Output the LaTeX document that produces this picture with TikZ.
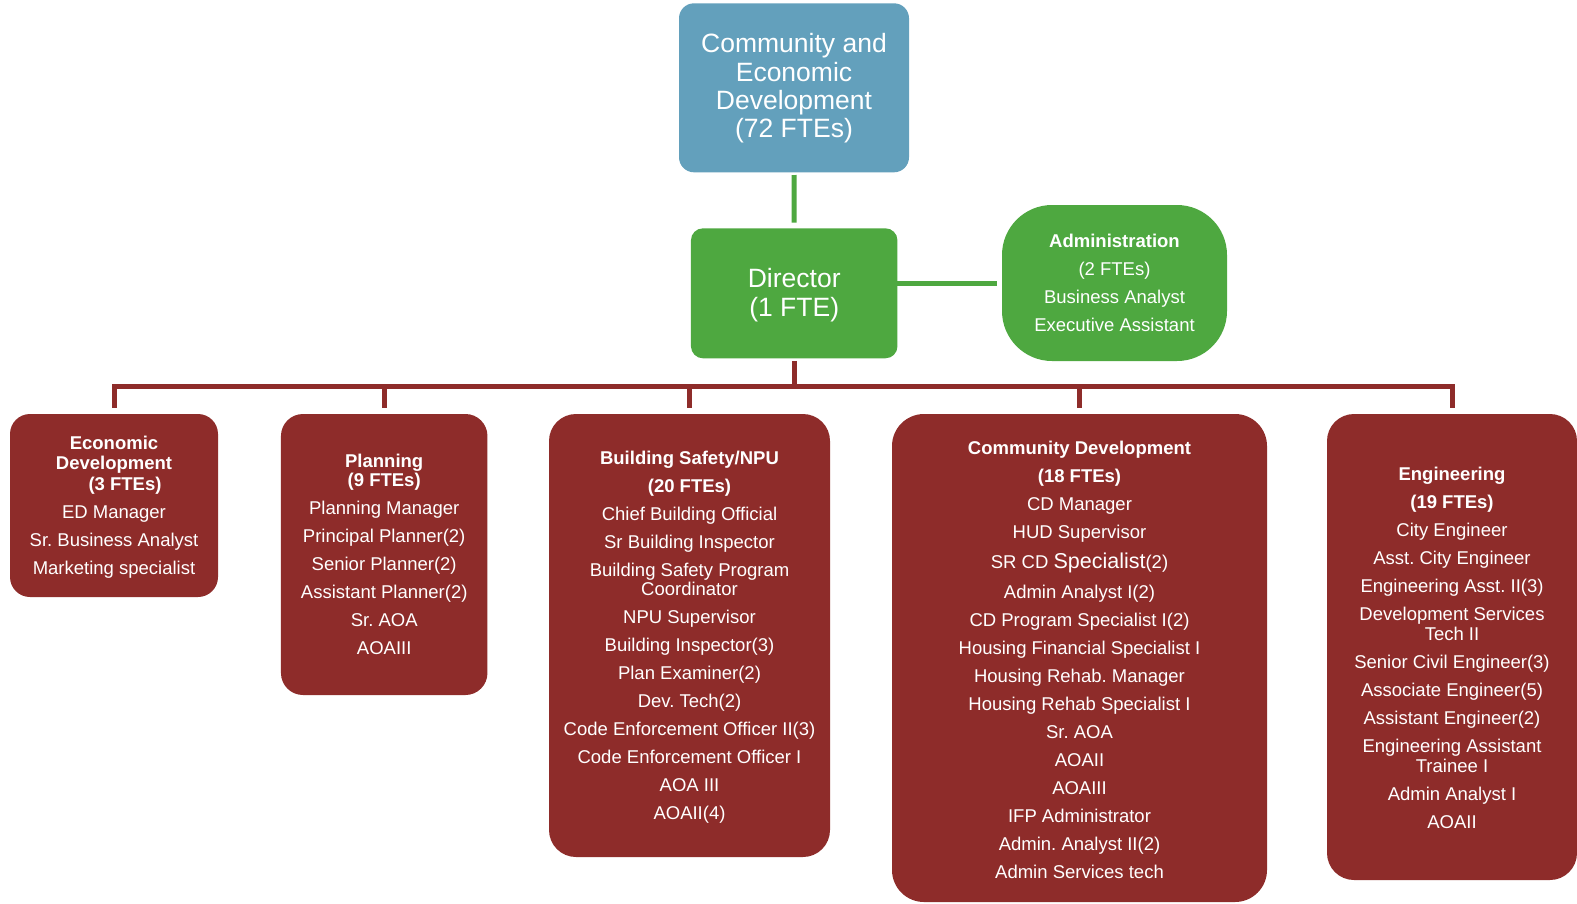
\documentclass[tikz,border=0pt]{standalone}
\usepackage{fontspec}
\setmainfont{Liberation Sans}
\frenchspacing
\definecolor{cblue}{RGB}{99,160,188}
\definecolor{cgreen}{RGB}{78,168,64}
\definecolor{cred}{RGB}{142,44,42}
\begin{document}
\begin{tikzpicture}[x=1pt,y=-1pt,
  box/.style={draw=none, inner sep=0pt, outer sep=0pt},
  bluebox/.style={box, fill=cblue, rounded corners=15pt},
  greenbox/.style={box, fill=cgreen, rounded corners=#1},
  redbox/.style={box, fill=cred, rounded corners=#1},
  txt/.style={text=white, align=center, inner sep=0pt, anchor=north, font=\fontsize{18.5}{28}\selectfont\frenchspacing},
  bigtxt/.style={txt, font=\fontsize{26.5}{28.4}\selectfont\frenchspacing},
  gline/.style={draw=cgreen, line width=5pt},
  rline/.style={draw=cred, line width=5pt},
]
\useasboundingbox (0,0) rectangle (1577,903);

% boxes
\node[bluebox, minimum width=230pt, minimum height=169pt] (top) at (794,87.8) {};
\node[greenbox=12pt, minimum width=206.5pt, minimum height=130pt] (dir) at (794.2,293.3) {};
\node[greenbox=50pt, minimum width=225pt, minimum height=156pt] (adm) at (1114.5,283) {};
\node[redbox=20pt, minimum width=208pt, minimum height=183pt] (econ) at (114,505.5) {};
\node[redbox=22pt, minimum width=206.5pt, minimum height=281pt] (plan) at (384.2,554.5) {};
\node[redbox=27pt, minimum width=281pt, minimum height=443pt] (bld) at (689.5,635.5) {};
\node[redbox=32pt, minimum width=375pt, minimum height=488pt] (cd) at (1079.5,658) {};
\node[redbox=27pt, minimum width=250pt, minimum height=466pt] (eng) at (1452,647) {};

% texts
\node[bigtxt] (topT) at (794,33.2) {Community and\\Economic\\Development\\(72 FTEs)};
\node[bigtxt] (dirT) at (794.2,268.2) {Director\\(1 FTE)};
\node[txt] (admT) at (1114.5,233.5) {\textbf{Administration}\\(2 FTEs)\\Business Analyst\\Executive Assistant};
\node[txt] (econT) at (114,435.7) {\textbf{Economic}\\[-7.5pt]\textbf{Development}\\[-7.5pt]\hspace*{22pt}\textbf{(3 FTEs)}\\ED Manager\\Sr. Business Analyst\\Marketing specialist};
\node[txt] (planT) at (384.2,454) {\textbf{Planning}\\[-9pt]\textbf{(9 FTEs)}\\Planning Manager\\Principal Planner(2)\\Senior Planner(2)\\Assistant Planner(2)\\Sr. AOA\\AOAIII};
\node[txt] (bldT) at (689.5,450.7) {\textbf{Building Safety/NPU}\\\textbf{(20 FTEs)}\\Chief Building Official\\Sr Building Inspector\\Building Safety Program\\[-9pt]Coordinator\\NPU Supervisor\\Building Inspector(3)\\Plan Examiner(2)\\Dev. Tech(2)\\Code Enforcement Officer II(3)\\Code Enforcement Officer I\\AOA III\\AOAII(4)};
\node[txt] (cdT) at (1079.5,440.7) {\textbf{Community Development}\\\textbf{(18 FTEs)}\\CD Manager\\HUD Supervisor\\[2pt]SR CD {\fontsize{21.5}{28}\selectfont Specialist}(2)\\[2pt]Admin Analyst I(2)\\CD Program Specialist I(2)\\Housing Financial Specialist I\\Housing Rehab. Manager\\Housing Rehab Specialist I\\Sr. AOA\\AOAII\\AOAIII\\IFP Administrator\\Admin. Analyst II(2)\\Admin Services tech};
\node[txt] (engT) at (1452,467) {\textbf{Engineering}\\\textbf{(19 FTEs)}\\City Engineer\\Asst. City Engineer\\Engineering Asst. II(3)\\Development Services\\[-8pt]Tech II\\Senior Civil Engineer(3)\\Associate Engineer(5)\\Assistant Engineer(2)\\Engineering Assistant\\[-8pt]Trainee I\\Admin Analyst I\\AOAII};

% connectors
\coordinate (bus) at (794.2,386);
\draw[gline, shorten <=2.7pt, shorten >=5.6pt] (top.south) -- (dir.north);
\draw[gline, shorten >=5.2pt] (dir.east |- adm.west) -- (adm.west);
\draw[rline, shorten <=2.5pt] (dir.south) -- (dir.south |- bus);
\draw[rline, line cap=rect] (econ.north |- bus) -- (eng.north |- bus);
\foreach \b in {econ,plan,bld,cd,eng}
  \draw[rline, shorten >=6pt] (\b.north |- bus) -- (\b.north);
\end{tikzpicture}
\end{document}
